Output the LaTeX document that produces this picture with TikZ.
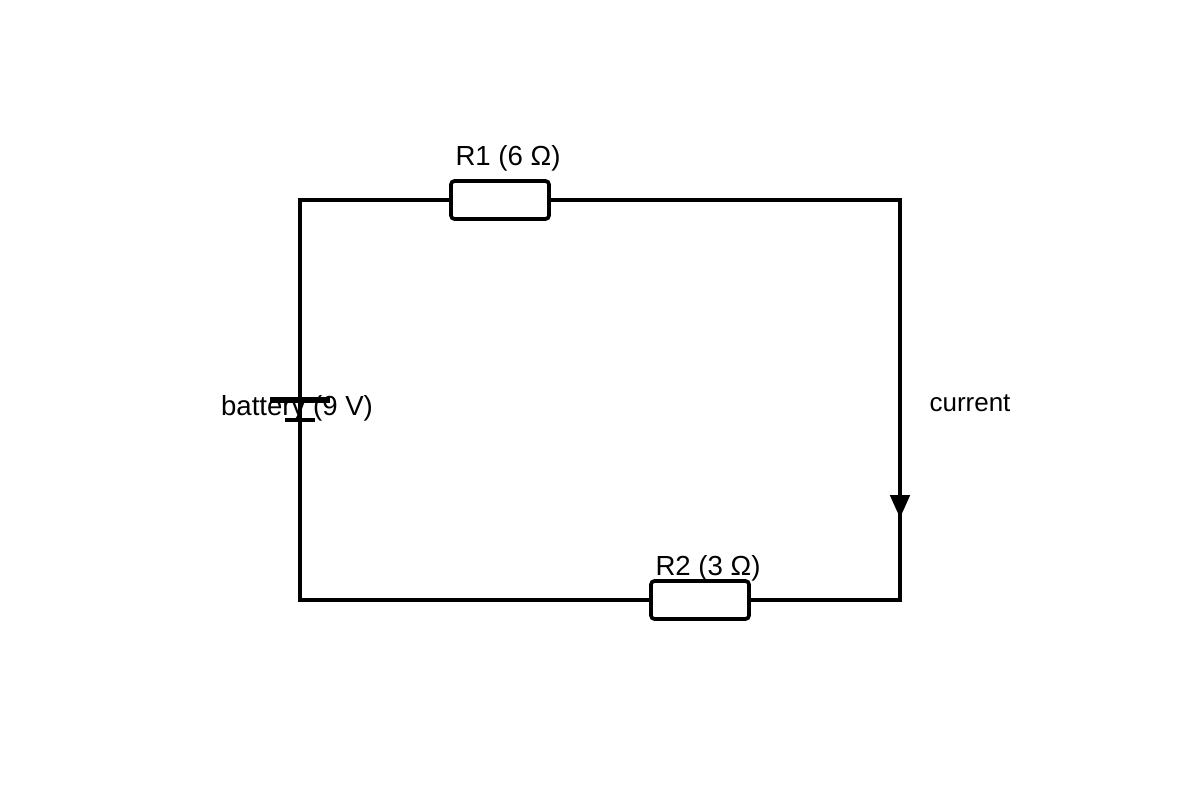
\documentclass[tikz,border=0pt]{standalone}
\usepackage{fontspec}
\setmainfont{Liberation Sans}
\usetikzlibrary{arrows.meta}

\begin{document}
\begin{tikzpicture}[x=0.02cm, y=-0.02cm,
        wire/.style={line width=2.1pt, black},
        resistor/.style={rectangle, draw=black, fill=white, line width=2.1pt, rounded corners=2pt, minimum width=1.96cm, minimum height=0.76cm},
        lbl/.style={font=\fontsize{15.7}{18}\selectfont, inner sep=0pt}
      ]
        \useasboundingbox (0,0) rectangle (1200,800);

        % corners of the loop
        \coordinate (tl) at (300,200);
        \coordinate (tr) at (900,200);
        \coordinate (br) at (900,600);
        \coordinate (bl) at (300,600);
        \coordinate (arrowtip) at (900,518);

        \draw[wire] (tl) -- (tr) -- (br) -- (bl) -- cycle;

        \node[resistor] (r1) at (500,200) {};
        \node[resistor] (r2) at (700,600) {};
        \node[lbl] (r1label) at (508,158) {R1 (6 Ω)};
        \node[lbl] (r2label) at (708,568) {R2 (3 Ω)};

        % battery plates
        \node[lbl] (batlabel) at (297,408) {battery (9 V)};
        \coordinate (plusl) at (270,400);
        \coordinate (plusr) at (330,400);
        \coordinate (minl) at (285,420);
        \coordinate (minr) at (315,420);
        \draw[line width=3pt] (plusl) -- (plusr);
        \draw[line width=2.1pt] (minl) -- (minr);

        % current direction
        \draw[wire, -{Triangle[width=11pt, length=13pt]}] (br) ++(0,-120) -- (arrowtip);
        \node[font=\fontsize{14.8}{17}\selectfont, inner sep=0pt] (curlabel) at (970,403) {current};
      \end{tikzpicture}
\end{document}
